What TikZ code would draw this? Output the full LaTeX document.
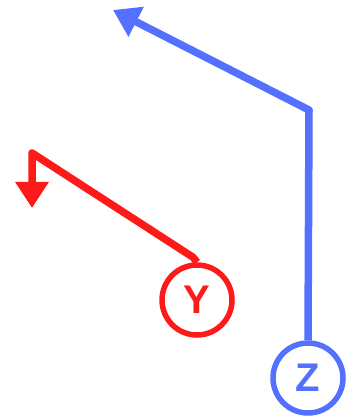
\documentclass[tikz,border=0pt]{standalone}
\usepackage{fontspec}
\setmainfont{Liberation Sans}
\usetikzlibrary{arrows.meta}
\definecolor{cred}{RGB}{255,26,26}
\definecolor{cblue}{RGB}{84,112,255}
\begin{document}
\begin{tikzpicture}[x=1pt,y=-1pt,
  circ/.style={circle,draw=#1,line width=5.5pt,minimum size=70pt,inner sep=0pt,text=#1,font=\fontsize{40}{40}\selectfont\bfseries},
  conn/.style={draw=#1,line width=7.5pt,line join=round,-{Triangle[length=26pt,width=32pt]}}]
\useasboundingbox (0,0) rectangle (346,419);
\node[circ=cred] (Y) at (197,300) {Y};
\node[circ=cblue] (Z) at (308,378) {Z};
\coordinate (yc) at (32,153);
\coordinate (yt) at (32,208);
\coordinate (zc) at (309,110);
\coordinate (zt) at (113,10);
\draw[conn=cred] (Y.north) -- ++(-4,-5) -- (yc) -- (yt);
\draw[conn=cblue] (Z.north) -- (zc) -- (zt);
\end{tikzpicture}
\end{document}
